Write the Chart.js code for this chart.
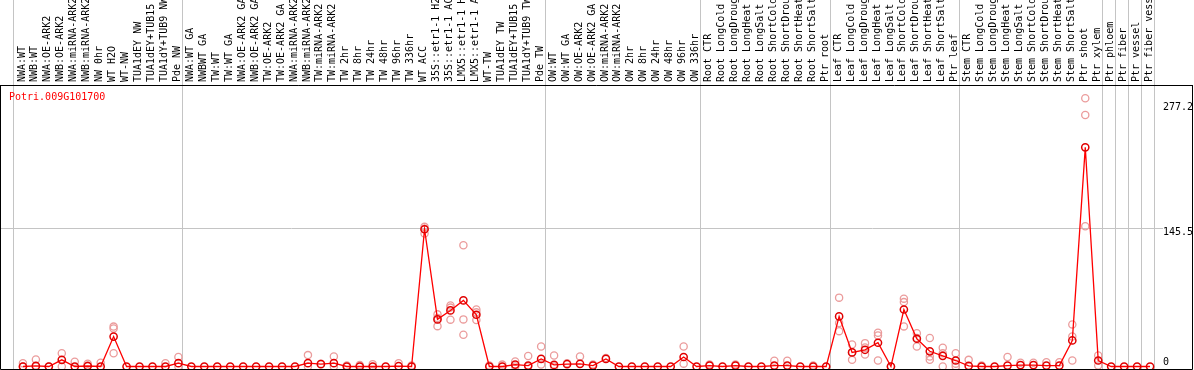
<!DOCTYPE html>
<html>
<head>
<meta charset="utf-8">
<script src="https://cdn.jsdelivr.net/npm/chart.js@4/dist/chart.umd.min.js"></script>
<style>
  html, body { margin: 0; padding: 0; background: #fff; }
  canvas { display: block; }
</style>
</head>
<body>
<canvas id="graphCanvas" width="1194" height="370"></canvas>
<script>
var geneName = 'Potri.009G101700';

// sample labels, in plot order
var labels = [
  'NWA:WT','NWB:WT','NWA:OE-ARK2','NWB:OE-ARK2','NWA:miRNA-ARK2','NWB:miRNA-ARK2','NW 0hr','WT H2O','WT-NW',
  'TUA1dEY NW','TUA1dEY+TUB15 NW','TUA1dY+TUB9 NW','Pde NW',
  'NWA:WT GA','NWBWT GA','TW:WT','TW:WT GA','NWA:OE-ARK2 GA','NWB:OE-ARK2 GA','TW:OE-ARK2','TW:OE-ARK2 GA',
  'NWA:miRNA-ARK2 GA','NWB:miRNA-ARK2 GA','TW:miRNA-ARK2','TW:miRNA-ARK2 GA','TW 2hr','TW 8hr','TW 24hr','TW 48hr',
  'TW 96hr','TW 336hr','WT ACC','35S::etr1-1 H2O','35S::etr1-1 ACC','LMX5::etr1-1 H2O','LMX5::etr1-1 ACC','WT-TW',
  'TUA1dEY TW','TUA1dEY+TUB15 TW','TUA1dY+TUB9 TW','Pde TW',
  'OW:WT','OW:WT GA','OW:OE-ARK2','OW:OE-ARK2 GA','OW:miRNA-ARK2','OW:miRNA-ARK2 GA','OW 2hr','OW 8hr','OW 24hr',
  'OW 48hr','OW 96hr','OW 336hr',
  'Root CTR','Root LongCold','Root LongDrought','Root LongHeat','Root LongSalt','Root ShortCold','Root ShortDrought',
  'Root ShortHeat','Root ShortSalt','Ptr root',
  'Leaf CTR','Leaf LongCold','Leaf LongDrought','Leaf LongHeat','Leaf LongSalt','Leaf ShortCold','Leaf ShortDrought',
  'Leaf ShortHeat','Leaf ShortSalt','Ptr leaf',
  'Stem CTR','Stem LongCold','Stem LongDrought','Stem LongHeat','Stem LongSalt','Stem ShortCold','Stem ShortDrought',
  'Stem ShortHeat','Stem ShortSalt','Ptr shoot','Ptr xylem',
  'Ptr phloem','Ptr fiber','Ptr vessel','Ptr fiber vessel'
];

// index where each sample group starts (group separators)
var groupStarts = [0, 13, 41, 53, 63, 73, 84, 85, 86, 87, 88];

// mean expression per sample
var means = [
  0, 0.6, 0, 7, 0, 0.5, 0, 31.5, 0, 0, 0, 0, 3.5,
  0, 0, 0, 0, 0, 0, 0, 0, 0, 3.5, 2.5, 3.5, 0, 0, 0, 0, 0.3, 0, 144.5, 49.6, 59, 69.6, 54.5, 0, 0, 2, 1, 8,
  1.7, 2.4, 2.8, 1, 8, 0, 0, 0, 0, 0, 10, 0,
  1, 0, 1, 0, 0, 1, 1, 0, 0, 0,
  52.7, 14.8, 17.6, 25, 0, 60, 29.2, 16, 11.2, 6.3,
  0.7, 0, 0, 1, 1.5, 1.5, 1, 1, 27.4, 230.7, 6.3,
  0, 0, 0, 0
];

// replicate values per sample
var reps = [
  [3.5, 0], [7.4, 0], [0], [14, 0], [5], [3, 1], [4], [42, 40, 14], [], [], [], [3.5], [10, 0],
  [], [], [], [], [], [], [], [], [], [12, 0], [3], [10.5, 0], [1], [1.5], [2.5], [], [3.5], [1],
  [147, 145, 140], [54.9, 42.5, 51], [64.3, 49.3, 62], [127.6, 49.6, 33.4], [60, 49, 57], [1], [2], [5.3, 0], [11, 0], [21, 2],
  [11.6, 0], [3.5], [10.5], [2], [9], [], [], [], [], [], [21, 3], [],
  [2], [], [2], [], [], [6], [6], [], [1], [],
  [72.5, 45.7, 37.2], [23.2, 7, 15], [24.6, 12.7, 20], [35.5, 32.7, 6.3], [0], [71.4, 67.8, 42.2], [35, 21, 30],
  [30, 10.5, 7], [19.7, 14, 0], [14, 3, 0],
  [7], [1], [], [10], [4], [4], [4.5], [4.5], [44.3, 31.6, 6.3], [282.4, 264.8, 147.7], [11.6, 1],
  [], [], [], []
];

var yTicks = [0, 145.5, 277.2];

var monoFont = '"DejaVu Sans Mono", monospace';

var meanPoints = [];
for (var i = 0; i < means.length; i++) {
  meanPoints.push({x: i, y: means[i]});
}
var repPoints = [];
for (var i = 0; i < reps.length; i++) {
  for (var j = 0; j < reps[i].length; j++) {
    repPoints.push({x: i, y: reps[i][j]});
  }
}

// slot is 13px wide, point sits 9px into its slot
var slotShift = 9 / 13;

var extras = {
  id: 'extras',
  afterDraw: function(chart) {
    var ctx = chart.ctx;
    var a = chart.chartArea;
    ctx.save();
    ctx.strokeStyle = '#000';
    ctx.lineWidth = 1;
    ctx.beginPath();
    ctx.moveTo(0, a.top + 0.5); ctx.lineTo(chart.width - 1.5, a.top + 0.5);
    ctx.moveTo(a.left - 0.5, a.top); ctx.lineTo(a.left - 0.5, a.bottom + 0.5);
    ctx.moveTo(a.left - 0.5, a.bottom + 0.5); ctx.lineTo(chart.width - 1.5, a.bottom + 0.5);
    ctx.moveTo(chart.width - 1.5, a.top); ctx.lineTo(chart.width - 1.5, a.bottom + 0.5);
    ctx.stroke();
    ctx.fillStyle = '#ff0000';
    ctx.font = '10px ' + monoFont;
    ctx.textBaseline = 'middle';
    ctx.fillText(geneName, 9, 97);
    ctx.restore();
  }
};

var k = 0.95;
var yMin = -2.5 / k;
var yMax = yMin + 284 / k;

window.bar = new Chart(document.getElementById('graphCanvas'), {
  type: 'line',
  data: {
    datasets: [
      {
        label: 'mean',
        data: meanPoints,
        borderColor: '#ff0000',
        borderWidth: 1.3,
        backgroundColor: 'transparent',
        pointStyle: 'circle',
        pointRadius: 3.6,
        pointBorderWidth: 1.5,
        pointBorderColor: '#e00000',
        pointBackgroundColor: 'transparent',
        tension: 0
      },
      {
        label: 'replicates',
        data: repPoints,
        showLine: false,
        pointStyle: 'circle',
        pointRadius: 3.6,
        pointBorderWidth: 1.3,
        pointBorderColor: '#eb9c9c',
        pointBackgroundColor: 'transparent'
      }
    ]
  },
  options: {
    responsive: false,
    animation: false,
    events: [],
    layout: { autoPadding: false, padding: { left: 1, right: 0, top: 0, bottom: 1 } },
    plugins: {
      legend: { display: false },
      tooltip: { enabled: false },
      title: { display: false }
    },
    scales: {
      x: {
        type: 'linear',
        position: 'top',
        min: -1 - slotShift,
        max: 88,
        border: { display: false },
        grid: {
          color: function(c) { return Number.isInteger(c.tick.value) ? 'rgba(0,0,0,0)' : '#c4c4c4'; },
          lineWidth: 1,
          drawTicks: true,
          tickLength: 85
        },
        ticks: {
          autoSkip: false,
          minRotation: 90,
          maxRotation: 90,
          padding: -82,
          labelOffset: 11,
          color: '#000',
          font: { family: monoFont, size: 10 },
          callback: function(value) {
            return Number.isInteger(value) ? labels[value] : '';
          }
        },
        afterBuildTicks: function(scale) {
          var t = [];
          for (var i = 0; i < groupStarts.length; i++) t.push({value: groupStarts[i] - slotShift});
          for (var i = 0; i < labels.length; i++) t.push({value: i});
          t.sort(function(p, q) { return p.value - q.value; });
          scale.ticks = t;
        },
        afterFit: function(scale) {
          scale.height = 85;
          scale.paddingLeft = 0;
          scale.paddingRight = 0;
        }
      },
      y: {
        type: 'linear',
        position: 'right',
        min: yMin,
        max: yMax,
        border: { display: false },
        grid: {
          color: function(c) { return c.tick.value === 145.5 ? '#c4c4c4' : 'rgba(0,0,0,0)'; },
          drawTicks: false
        },
        ticks: {
          padding: 0,
          color: '#000',
          font: { family: monoFont, size: 10, lineHeight: 0.9 },
          callback: function(value) {
            return value === 0 ? ['0', ''] : ['', String(value)];
          }
        },
        afterBuildTicks: function(scale) {
          scale.ticks = yTicks.map(function(v) { return {value: v}; });
        },
        afterFit: function(scale) {
          scale.width = 31;
          scale.paddingTop = 0;
          scale.paddingBottom = 0;
        }
      }
    }
  },
  plugins: [extras]
});
</script>
</body>
</html>
